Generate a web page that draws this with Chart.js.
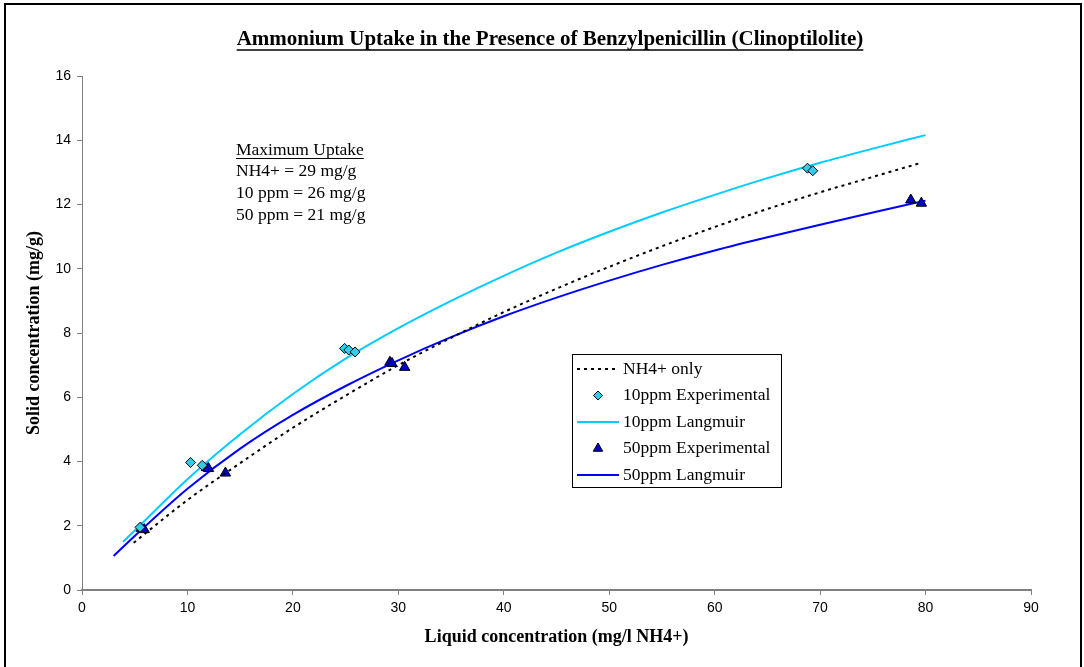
<!DOCTYPE html>
<html>
<head>
<meta charset="utf-8">
<script src="https://cdn.jsdelivr.net/npm/chart.js@4.4.0/dist/chart.umd.min.js"></script>
<style>
  body { margin: 0; background: #fff; }
  #wrap { position: relative; width: 1084px; height: 667px; overflow: hidden; }
  #frame { position: absolute; left: 4px; top: 3px; width: 1074px; height: 700px; border: 2px solid #000; pointer-events: none; }
</style>
</head>
<body>
<div id="wrap">
  <canvas id="uptakeChart" width="1084" height="667"></canvas>
  <div id="frame"></div>
</div>
<script>
// ---- data ----
const chartTitle = 'Ammonium Uptake in the Presence of Benzylpenicillin (Clinoptilolite)';
const xTitle = 'Liquid concentration (mg/l NH4+)';
const yTitle = 'Solid concentration (mg/g)';
const noteLines = ['Maximum Uptake', 'NH4+ = 29 mg/g', '10 ppm = 26 mg/g', '50 ppm = 21 mg/g'];

// NH4+ only (dotted)
const nh4C = [4.9, 10, 15, 20, 25, 30, 35, 40, 45, 50, 55, 60, 65, 70, 75, 79.6];
const nh4Q = [1.47, 2.8, 3.95, 5.05, 6.05, 7.0, 7.85, 8.65, 9.38, 10.06, 10.7, 11.3, 11.86, 12.38, 12.86, 13.3];

// 10ppm experimental (diamonds)
const exp10C = [5.5, 10.3, 11.4, 24.9, 25.3, 25.9, 68.8, 69.3];
const exp10Q = [1.95, 3.97, 3.88, 7.52, 7.47, 7.41, 13.13, 13.05];

// 10ppm Langmuir
const lang10C = [3.9, 5, 10, 15, 20, 25, 30, 35, 40, 45, 50, 55, 60, 65, 70, 75, 80];
const lang10Q = [1.5, 1.85, 3.45, 4.85, 6.1, 7.2, 8.15, 9.0, 9.78, 10.5, 11.15, 11.75, 12.3, 12.82, 13.3, 13.74, 14.16];

// 50ppm experimental (triangles)
const exp50C = [5.6, 5.9, 11.8, 12.0, 13.6, 29.2, 29.4, 30.6, 78.6, 79.6];
const exp50Q = [1.92, 1.88, 3.81, 3.78, 3.64, 7.09, 7.05, 6.93, 12.14, 12.04];

// 50ppm Langmuir
const lang50C = [3.0, 5, 10, 15, 20, 25, 30, 35, 40, 45, 50, 55, 60, 65, 70, 75, 80];
const lang50Q = [1.06, 1.68, 3.15, 4.4, 5.45, 6.35, 7.15, 7.87, 8.52, 9.1, 9.63, 10.12, 10.57, 10.98, 11.37, 11.75, 12.12];

const toPoints = (xs, ys) => xs.map((x, i) => ({ x: x, y: ys[i] }));

const SERIF = '"Liberation Serif", "Times New Roman", serif';
const SANS = '"Liberation Sans", Arial, sans-serif';

// title, note and legend drawn on the canvas
const decorPlugin = {
    id: 'decor',
    afterDraw(chart) {
        const ctx = chart.ctx;
        ctx.save();
        ctx.fillStyle = '#000';
        ctx.strokeStyle = '#000';

        // title, underlined
        ctx.font = 'bold 21px ' + SERIF;
        ctx.textAlign = 'center';
        ctx.textBaseline = 'middle';
        const tx = 550, ty = 40;
        ctx.fillText(chartTitle, tx, ty);
        const tw = ctx.measureText(chartTitle).width;
        ctx.lineWidth = 1.5;
        ctx.beginPath();
        ctx.moveTo(tx - tw / 2, ty + 10);
        ctx.lineTo(tx + tw / 2, ty + 10);
        ctx.stroke();

        // maximum uptake note
        ctx.font = '17.5px ' + SERIF;
        ctx.textAlign = 'left';
        noteLines.forEach((line, i) => {
            ctx.fillText(line, 236, 150 + i * 21.7);
        });
        const uw = ctx.measureText(noteLines[0]).width;
        ctx.lineWidth = 1;
        ctx.beginPath();
        ctx.moveTo(236, 158.5);
        ctx.lineTo(236 + uw, 158.5);
        ctx.stroke();

        // legend box
        const bx = 572, by = 354, bw = 209, bh = 133;
        ctx.fillStyle = '#fff';
        ctx.fillRect(bx, by, bw, bh);
        ctx.lineWidth = 1;
        ctx.strokeStyle = '#000';
        ctx.strokeRect(bx + 0.5, by + 0.5, bw, bh);
        ctx.font = '17.5px ' + SERIF;
        chart.data.datasets.forEach((ds, i) => {
            const rowY = 369 + i * 26.5;
            if (ds.showLine) {
                ctx.save();
                ctx.strokeStyle = ds.borderColor;
                ctx.lineWidth = ds.borderWidth;
                ctx.setLineDash(ds.borderDash || []);
                ctx.beginPath();
                ctx.moveTo(577, rowY);
                ctx.lineTo(619, rowY);
                ctx.stroke();
                ctx.restore();
            } else {
                ctx.save();
                ctx.fillStyle = ds.pointBackgroundColor;
                ctx.strokeStyle = ds.pointBorderColor;
                ctx.lineWidth = ds.pointBorderWidth;
                Chart.helpers.drawPoint(ctx, {
                    pointStyle: ds.pointStyle,
                    radius: ds.pointRadius - 0.5,
                    rotation: 0,
                    borderWidth: ds.pointBorderWidth
                }, 598, rowY);
                ctx.restore();
            }
            ctx.fillStyle = '#000';
            ctx.fillText(ds.label, 623, rowY);
        });
        ctx.restore();
    }
};

new Chart(document.getElementById('uptakeChart'), {
    type: 'scatter',
    data: {
        datasets: [
            {
                label: 'NH4+ only',
                data: toPoints(nh4C, nh4Q),
                showLine: true,
                borderColor: '#000000',
                borderWidth: 2,
                borderDash: [3, 4],
                pointRadius: 0,
                cubicInterpolationMode: 'monotone'
            },
            {
                label: '10ppm Experimental',
                data: toPoints(exp10C, exp10Q),
                showLine: false,
                pointStyle: 'rectRot',
                pointRadius: 5,
                pointBackgroundColor: '#33CCEE',
                pointBorderColor: '#000000',
                pointBorderWidth: 1
            },
            {
                label: '10ppm Langmuir',
                data: toPoints(lang10C, lang10Q),
                showLine: true,
                borderColor: '#00CCFF',
                borderWidth: 2,
                pointRadius: 0,
                cubicInterpolationMode: 'monotone'
            },
            {
                label: '50ppm Experimental',
                data: toPoints(exp50C, exp50Q),
                showLine: false,
                pointStyle: 'triangle',
                pointRadius: 6,
                pointBackgroundColor: '#0000CC',
                pointBorderColor: '#000000',
                pointBorderWidth: 1
            },
            {
                label: '50ppm Langmuir',
                data: toPoints(lang50C, lang50Q),
                showLine: true,
                borderColor: '#0000FF',
                borderWidth: 2,
                pointRadius: 0,
                cubicInterpolationMode: 'monotone'
            }
        ]
    },
    options: {
        responsive: false,
        animation: false,
        layout: { padding: { top: 76, right: 53, bottom: 0, left: 0 } },
        plugins: {
            legend: { display: false },
            title: { display: false },
            tooltip: { enabled: false }
        },
        scales: {
            x: {
                type: 'linear',
                min: 0,
                max: 90,
                afterFit: s => { s.height = 77; },
                border: { color: '#808080', width: 2 },
                grid: { drawOnChartArea: false, drawTicks: true, tickLength: 5, color: '#808080' },
                ticks: { stepSize: 10, padding: 5, color: '#000', font: { family: SANS, size: 14 } },
                title: {
                    display: true,
                    text: xTitle,
                    color: '#000',
                    font: { family: SERIF, size: 18, weight: 'bold' },
                    padding: { top: 19, bottom: 19 }
                }
            },
            y: {
                type: 'linear',
                min: 0,
                max: 16,
                afterFit: s => { s.width = 82; },
                border: { color: '#808080', width: 1 },
                grid: { drawOnChartArea: false, drawTicks: true, tickLength: 5, color: '#808080' },
                ticks: { stepSize: 2, padding: 6, color: '#000', font: { family: SANS, size: 14 } },
                title: {
                    display: true,
                    text: yTitle,
                    color: '#000',
                    font: { family: SERIF, size: 18, weight: 'bold' },
                    padding: { top: 24, bottom: 24 }
                }
            }
        }
    },
    plugins: [decorPlugin]
});
</script>
</body>
</html>
